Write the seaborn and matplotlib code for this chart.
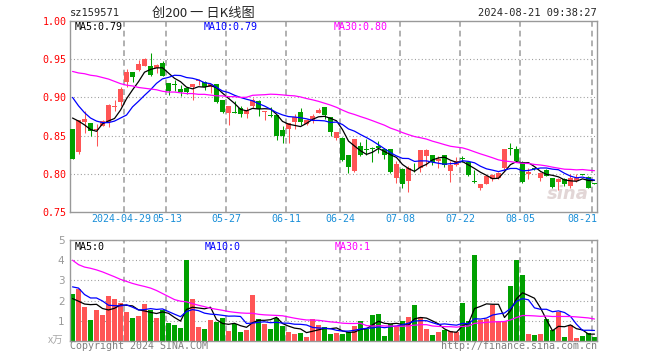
import numpy as np
import pandas as pd
import matplotlib
matplotlib.use("Agg")
import matplotlib.pyplot as plt
import seaborn as sns

# daily K data (88 sessions, 2024-04-17 .. 2024-08-21)
opens = [0.858, 0.828, 0.868, 0.867, 0.857, 0.863, 0.868, 0.887, 0.894, 0.920,
         0.933, 0.936, 0.941, 0.941, 0.938, 0.945, 0.919, 0.917, 0.911, 0.912,
         0.913, 0.921, 0.920, 0.913, 0.917, 0.896, 0.880, 0.881, 0.886, 0.878,
         0.889, 0.895, 0.881, 0.877, 0.877, 0.857, 0.858, 0.868, 0.881, 0.865,
         0.870, 0.879, 0.887, 0.875, 0.847, 0.847, 0.825, 0.804, 0.837, 0.832,
         0.834, 0.837, 0.832, 0.832, 0.795, 0.806, 0.790, 0.808, 0.807, 0.823,
         0.825, 0.817, 0.824, 0.804, 0.812, 0.821, 0.815, 0.790, 0.782, 0.787,
         0.793, 0.794, 0.807, 0.833, 0.832, 0.816, 0.800, 0.807, 0.795, 0.805,
         0.794, 0.789, 0.793, 0.784, 0.791, 0.800, 0.796, 0.788]
highs = [0.858, 0.871, 0.882, 0.867, 0.865, 0.871, 0.891, 0.896, 0.913, 0.937,
         0.933, 0.949, 0.951, 0.958, 0.944, 0.947, 0.919, 0.923, 0.916, 0.912,
         0.917, 0.924, 0.921, 0.918, 0.917, 0.897, 0.889, 0.895, 0.889, 0.887,
         0.899, 0.897, 0.882, 0.888, 0.877, 0.862, 0.867, 0.878, 0.886, 0.872,
         0.878, 0.886, 0.887, 0.875, 0.855, 0.848, 0.825, 0.846, 0.841, 0.845,
         0.835, 0.843, 0.834, 0.832, 0.817, 0.808, 0.810, 0.814, 0.831, 0.832,
         0.825, 0.823, 0.824, 0.817, 0.822, 0.823, 0.815, 0.805, 0.786, 0.799,
         0.800, 0.803, 0.832, 0.840, 0.836, 0.817, 0.808, 0.807, 0.802, 0.806,
         0.795, 0.795, 0.795, 0.800, 0.800, 0.800, 0.797, 0.788]
lows = [0.819, 0.826, 0.854, 0.849, 0.836, 0.862, 0.861, 0.882, 0.889, 0.913,
        0.920, 0.935, 0.941, 0.928, 0.932, 0.928, 0.903, 0.909, 0.902, 0.905,
        0.897, 0.916, 0.910, 0.906, 0.893, 0.880, 0.864, 0.880, 0.875, 0.873,
        0.886, 0.876, 0.871, 0.875, 0.844, 0.840, 0.840, 0.858, 0.864, 0.864,
        0.867, 0.879, 0.872, 0.850, 0.844, 0.817, 0.801, 0.803, 0.823, 0.824,
        0.815, 0.827, 0.820, 0.801, 0.788, 0.782, 0.776, 0.803, 0.802, 0.810,
        0.811, 0.807, 0.809, 0.789, 0.810, 0.815, 0.797, 0.788, 0.779, 0.787,
        0.791, 0.793, 0.804, 0.825, 0.816, 0.788, 0.793, 0.805, 0.791, 0.797,
        0.781, 0.779, 0.784, 0.782, 0.789, 0.798, 0.781, 0.787]
closes = [0.820, 0.871, 0.872, 0.856, 0.859, 0.869, 0.890, 0.888, 0.911, 0.933,
          0.927, 0.944, 0.950, 0.929, 0.943, 0.928, 0.909, 0.916, 0.907, 0.907,
          0.917, 0.923, 0.913, 0.917, 0.894, 0.881, 0.889, 0.880, 0.878, 0.884,
          0.897, 0.885, 0.882, 0.876, 0.850, 0.850, 0.867, 0.874, 0.868, 0.871,
          0.876, 0.884, 0.877, 0.855, 0.855, 0.818, 0.809, 0.845, 0.824, 0.831,
          0.832, 0.834, 0.825, 0.803, 0.813, 0.786, 0.807, 0.807, 0.831, 0.831,
          0.815, 0.820, 0.812, 0.811, 0.817, 0.820, 0.798, 0.789, 0.786, 0.797,
          0.798, 0.801, 0.832, 0.832, 0.817, 0.789, 0.803, 0.806, 0.801, 0.797,
          0.783, 0.793, 0.786, 0.795, 0.794, 0.799, 0.782, 0.787]
# volume in 万
volumes = [2.31, 2.56, 1.67, 1.02, 1.52, 1.27, 2.21, 2.07, 1.87, 1.42,
           1.12, 1.22, 1.82, 1.52, 1.12, 1.52, 0.88, 0.78, 0.63, 4.00,
           2.07, 0.69, 0.58, 1.02, 0.93, 1.12, 0.48, 0.83, 0.43, 0.53,
           2.26, 1.07, 0.83, 0.58, 1.12, 0.73, 0.43, 0.33, 0.38, 0.20,
           1.07, 0.78, 0.68, 0.33, 0.38, 0.33, 0.43, 0.73, 0.98, 0.58,
           1.27, 1.32, 0.23, 0.83, 0.73, 0.98, 1.17, 1.77, 1.17, 0.58,
           0.28, 0.43, 0.53, 0.48, 0.45, 1.87, 0.98, 4.25, 1.02, 1.07,
           1.77, 0.98, 0.98, 2.71, 4.00, 3.26, 0.33, 0.28, 0.33, 1.07,
           0.53, 1.42, 0.18, 0.78, 0.13, 0.23, 0.38, 0.18]

# moving-average values before a full window exists
ma5_lead = [0.873, 0.869, 0.864, 0.858]
ma10_lead = [0.900, 0.889, 0.880, 0.873, 0.869, 0.867, 0.867, 0.869, 0.873]
ma30_lead = [0.934, 0.932, 0.931, 0.929, 0.928, 0.926, 0.924, 0.921, 0.918, 0.916,
             0.915, 0.913, 0.912, 0.911, 0.910, 0.908, 0.907, 0.907, 0.906, 0.905,
             0.905, 0.904, 0.904, 0.903, 0.902, 0.902, 0.901, 0.901, 0.900]
vma5_lead = [2.10, 1.97, 1.83, 1.80]
vma10_lead = [2.68, 2.62, 2.30, 2.13, 2.13, 1.98, 1.77, 1.75, 1.74]
vma30_lead = [4.00, 3.78, 3.66, 3.60, 3.52, 3.42, 3.30, 3.18, 3.05, 2.95,
              2.85, 2.77, 2.70, 2.62, 2.50, 2.35, 2.20, 2.05, 1.97, 1.94,
              1.85, 1.77, 1.70, 1.62, 1.57, 1.52, 1.46, 1.42, 1.39]

tick_pos = [9, 16, 26, 36, 45, 55, 65, 75, 87]
tick_labels = ['2024-04-29', '05-13', '05-27', '06-11', '06-24',
               '07-08', '07-22', '08-05', '08-21']

RED = '#ff5555'
GREEN = '#00a000'
GRID = '#aaaaaa'
FRAME = '#999999'
DATE_BLUE = '#1a8fd8'
MONO = 'DejaVu Sans Mono'
CJK = ['Noto Sans CJK SC', 'DejaVu Sans']

df = pd.DataFrame({'open': opens, 'high': highs, 'low': lows,
                   'close': closes, 'vol': volumes})
df['x'] = np.arange(len(df))
df['color'] = np.where(df['close'] >= df['open'], RED, GREEN)


def moving(s, n, lead):
    m = s.rolling(n).mean()
    m.iloc[:len(lead)] = lead
    return m


df['ma5'] = moving(df['close'], 5, ma5_lead)
df['ma10'] = moving(df['close'], 10, ma10_lead)
df['ma30'] = moving(df['close'], 30, ma30_lead)
df['vma5'] = moving(df['vol'], 5, vma5_lead)
df['vma10'] = moving(df['vol'], 10, vma10_lead)
df['vma30'] = moving(df['vol'], 30, vma30_lead)

sns.set_style('white')
plt.rcParams['font.family'] = [MONO, 'Noto Sans CJK SC']

W, H = 660, 360
fig = plt.figure(figsize=(6.6, 3.6), dpi=100)
ax = fig.add_axes([70 / W, 1 - 212 / H, 527 / W, 191 / H])
axv = fig.add_axes([70 / W, 1 - 341 / H, 527 / W, 101 / H])
XL = (-0.42, len(df) - 0.58)

# --- price panel ---
for y in [0.80, 0.85, 0.90, 0.95]:
    ax.axhline(y, color=FRAME, lw=0.8, ls=(0, (0.9, 2.2)), zorder=0)
for p in tick_pos:
    ax.axvline(p - 0.42, color=GRID, lw=1.3, ls=(0, (3.2, 2.2)), zorder=0)

ax.vlines(df['x'], df['low'], df['high'], colors=df['color'], lw=0.75, zorder=2)
body = (df['close'] - df['open']).abs().clip(lower=0.0012)
ax.bar(df['x'], body, bottom=df[['open', 'close']].min(axis=1),
       width=0.82, color=df['color'], linewidth=0, zorder=3)

sns.lineplot(data=df, x='x', y='ma5', ax=ax, color='black', lw=0.9, zorder=4)
sns.lineplot(data=df, x='x', y='ma10', ax=ax, color='#0000ff', lw=0.9, zorder=4)
sns.lineplot(data=df, x='x', y='ma30', ax=ax, color='#ff00ff', lw=0.9, zorder=4)

ax.set_xlim(*XL)
ax.set_ylim(0.75, 1.00)
ax.set_yticks(np.arange(0.75, 1.001, 0.05))
ax.set_yticklabels([f'{v:.2f}' for v in np.arange(0.75, 1.001, 0.05)],
                   color='red', fontsize=7.2, family=MONO)
ax.set_xticks([])
ax.tick_params(axis='y', length=0, pad=2.5)
ax.set_xlabel('')
ax.set_ylabel('')

# date labels under the price panel (the first two sit edge to edge)
lab_y = 0.7475
ax.text(13.2, lab_y, tick_labels[0], ha='right', va='top',
        color=DATE_BLUE, fontsize=7.2, family=MONO)
ax.text(13.3, lab_y, tick_labels[1], ha='left', va='top',
        color=DATE_BLUE, fontsize=7.2, family=MONO)
for t, lab in zip(tick_pos[2:-1], tick_labels[2:-1]):
    ax.text(t - 0.42, lab_y, lab, ha='center', va='top',
            color=DATE_BLUE, fontsize=7.2, family=MONO)
ax.text(XL[1], lab_y, tick_labels[-1], ha='right', va='top',
        color=DATE_BLUE, fontsize=7.2, family=MONO)

ax.text(0.008, 0.97, 'MA5:0.79', transform=ax.transAxes, va='center',
        color='black', fontsize=7.2, family=MONO)
ax.text(134 / 527, 0.97, 'MA10:0.79', transform=ax.transAxes, va='center',
        color='#0000ff', fontsize=7.2, family=MONO)
ax.text(264 / 527, 0.97, 'MA30:0.80', transform=ax.transAxes, va='center',
        color='#ff00ff', fontsize=7.2, family=MONO)
ax.text(0.985, 0.045, 'sina', transform=ax.transAxes, ha='right', va='bottom',
        color='#e2d6d6', fontsize=13, fontweight='bold', style='italic',
        family='DejaVu Sans', zorder=1)

# --- volume panel ---
for y in [1, 2, 3, 4]:
    axv.axhline(y, color=FRAME, lw=0.8, ls=(0, (0.9, 2.2)), zorder=0)
for p in tick_pos:
    axv.axvline(p - 0.42, color=GRID, lw=1.3, ls=(0, (3.2, 2.2)), zorder=0)

axv.bar(df['x'], df['vol'], width=0.85, color=df['color'], linewidth=0, zorder=2)
sns.lineplot(data=df, x='x', y='vma5', ax=axv, color='black', lw=0.9, zorder=4)
sns.lineplot(data=df, x='x', y='vma10', ax=axv, color='#0000ff', lw=0.9, zorder=4)
sns.lineplot(data=df, x='x', y='vma30', ax=axv, color='#ff00ff', lw=0.9, zorder=4)

axv.set_xlim(*XL)
axv.set_ylim(0, 5)
axv.set_xticks([])
axv.set_yticks([1, 2, 3, 4, 5])
axv.set_yticklabels(['1', '2', '3', '4', '5'], color='#999999', fontsize=7.5,
                    family='DejaVu Sans')
axv.tick_params(axis='y', length=0, pad=4)
axv.set_xlabel('')
axv.set_ylabel('')
axv.text(-0.012, 0.0, 'x万', transform=axv.transAxes, ha='right', va='center',
         color='#aaaaaa', fontsize=7.5, family=CJK, style='italic')
axv.text(0.008, 0.93, 'MA5:0', transform=axv.transAxes, va='center',
         color='black', fontsize=7.2, family=MONO)
axv.text(135 / 527, 0.93, 'MA10:0', transform=axv.transAxes, va='center',
         color='#0000ff', fontsize=7.2, family=MONO)
axv.text(265 / 527, 0.93, 'MA30:1', transform=axv.transAxes, va='center',
         color='#ff00ff', fontsize=7.2, family=MONO)

for a in (ax, axv):
    for s in a.spines.values():
        s.set_visible(True)
        s.set_color(FRAME)
        s.set_linewidth(1.0)

# --- header / footer ---
fig.text(70 / W, 1 - 13 / H, 'sz159571', va='center', fontsize=7.5, family=MONO)
fig.text(203 / W, 1 - 13 / H, '创200 一 日K线图', ha='center', va='center',
         fontsize=9.5, family=CJK)
fig.text(597 / W, 1 - 13 / H, '2024-08-21 09:38:27', ha='right', va='center',
         fontsize=7.5, family=MONO)
fig.text(70 / W, 1 - 346 / H, 'Copyright 2024 SINA.COM', va='center',
         color='#808080', fontsize=7.2, family=MONO)
fig.text(597 / W, 1 - 346 / H, 'http://finance.sina.com.cn', ha='right',
         va='center', color='#808080', fontsize=7.2, family=MONO)

fig.savefig('out.png', dpi=100)
